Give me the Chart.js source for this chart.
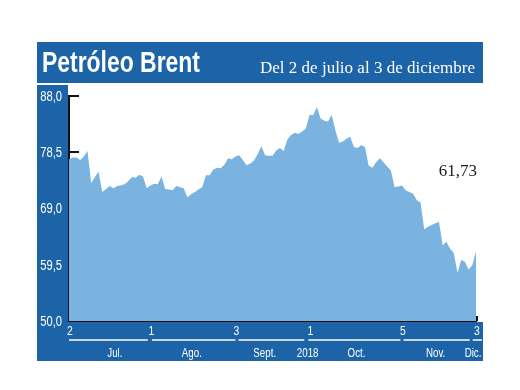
<!DOCTYPE html>
<html>
<head>
<meta charset="utf-8">
<script src="https://cdn.jsdelivr.net/npm/chart.js@4"></script>
<style>
  body { margin: 0; background: #fff; }
  canvas { display: block; }
</style>
</head>
<body>
<canvas id="brentChart" width="520" height="390"></canvas>
<script>
// Brent, trading days from 2 Jul to 3 Dec 2018 (index 0..110)
const prices = [
  77.3, 77.6, 77.6, 77.2, 77.8, 78.7, 73.3, 74.3, 75.2, 71.8,
  72.3, 72.8, 72.4, 72.8, 72.9, 73.1, 73.6, 74.3, 74.2, 74.7,
  74.4, 72.4, 72.9, 73.2, 73.1, 74.4, 72.3, 72.2, 72.1, 72.8,
  72.6, 72.4, 70.9, 71.4, 71.8, 72.2, 72.6, 74.6, 74.6, 75.6,
  75.9, 75.8, 76.4, 77.5, 77.3, 77.8, 78.0, 77.2, 76.3, 76.6,
  77.1, 78.2, 79.5, 78.0, 77.9, 77.9, 78.8, 79.2, 78.7, 80.6,
  81.4, 81.8, 81.6, 82.0, 82.5, 84.8, 84.8, 86.1, 84.2, 83.8,
  83.7, 84.8, 82.2, 80.1, 80.3, 80.8, 81.1, 79.4, 79.2, 79.7,
  79.4, 76.2, 75.9, 76.8, 77.5, 76.8, 76.1, 75.4, 72.6, 72.7,
  72.9, 72.1, 71.8, 71.5, 70.4, 70.0, 65.5, 65.9, 66.2, 66.5,
  66.7, 62.8, 63.4, 62.2, 61.5, 58.1, 60.3, 60.0, 58.7, 59.4,
  61.73
];
const lastLabel = '61,73';

// x ticks: day-of-month labels at trading-day index
const tickIdx = [0, 22, 45, 65, 90, 110];
const tickText = ['2', '1', '3', '1', '5', '3'];

// month captions under the axis
const months = ['Jul.', 'Ago.', 'Sept.', '2018', 'Oct.', 'Nov.', 'Dic.'];
const monthPos = [12.4, 33.2, 52.9, 64.5, 77.7, 99.1, 109.2];
const underlines = [[0, 21.3], [22.4, 45], [45.8, 63.6], [64.7, 89.6], [90.4, 108.3], [109.1, 111.6]];

const yTicks = [50, 59.5, 69, 78.5, 88];

const BLUE = '#1c63a7';
const FILL = '#7bb3e0';
const SANS = "'Liberation Sans', Arial, sans-serif";

// draw text squeezed horizontally (stand-in for a condensed face)
function narrowText(ctx, text, x, y, align, font, squeeze) {
    ctx.save();
    ctx.font = font;
    const w = ctx.measureText(text).width * squeeze;
    let x0 = x;
    if (align === 'center') x0 = x - w / 2;
    if (align === 'right') x0 = x - w;
    ctx.translate(x0, y);
    ctx.scale(squeeze, 1);
    ctx.textAlign = 'left';
    ctx.fillText(text, 0, 0);
    ctx.restore();
}

function fitText(ctx, text, x, y, width, font) {
    ctx.save();
    ctx.font = font;
    const w = ctx.measureText(text).width;
    ctx.translate(x, y);
    ctx.scale(width / w, 1);
    ctx.fillText(text, 0, 0);
    ctx.restore();
}

const framePlugin = {
    id: 'frame',
    beforeDraw(chart) {
        const ctx = chart.ctx;
        ctx.save();
        ctx.fillStyle = '#fff';
        ctx.fillRect(0, 0, chart.width, chart.height);
        ctx.fillStyle = BLUE;
        ctx.fillRect(37, 42, 446, 41);      // title banner
        ctx.fillRect(37, 85, 31, 276);      // y column
        ctx.fillRect(37, 322, 446, 39);     // bottom band
        ctx.restore();
    },
    beforeDatasetsDraw(chart) {
        const ctx = chart.ctx;
        const y = chart.scales.y;
        const left = chart.chartArea.left;
        ctx.save();
        ctx.strokeStyle = '#111';
        ctx.lineWidth = 2;
        yTicks.forEach(v => {
            const py = Math.round(y.getPixelForValue(v));
            ctx.beginPath();
            ctx.moveTo(left, py);
            ctx.lineTo(left + 10, py);
            ctx.stroke();
        });
        ctx.restore();
    },
    afterDraw(chart) {
        const ctx = chart.ctx;
        const x = chart.scales.x;
        const y = chart.scales.y;
        const area = chart.chartArea;
        ctx.save();
        ctx.fillStyle = '#fff';
        ctx.textBaseline = 'alphabetic';
        fitText(ctx, 'Petróleo Brent', 42, 72, 158, "bold 29px " + SANS);
        fitText(ctx, 'Del 2 de julio al 3 de diciembre', 260, 73, 215, "17px 'Liberation Serif', 'DejaVu Serif', serif");

        // y labels
        ctx.textBaseline = 'middle';
        yTicks.forEach(v => {
            narrowText(ctx, v.toFixed(1).replace('.', ','), 62, y.getPixelForValue(v) + 1,
                'right', "14px " + SANS, 0.8);
        });

        // x tick labels
        tickIdx.forEach((v, i) => {
            narrowText(ctx, tickText[i], x.getPixelForValue(v) + 1, 331, 'center', "13px " + SANS, 0.8);
        });

        // month underlines
        ctx.strokeStyle = '#fff';
        ctx.lineWidth = 1.5;
        underlines.forEach(([a, b]) => {
            ctx.beginPath();
            ctx.moveTo(x.getPixelForValue(a), 340);
            ctx.lineTo(x.getPixelForValue(b), 340);
            ctx.stroke();
        });

        // month labels
        months.forEach((m, i) => {
            narrowText(ctx, m, x.getPixelForValue(monthPos[i]), 353, 'center', "13px " + SANS, 0.75);
        });

        // small end tick
        ctx.strokeStyle = '#111';
        ctx.lineWidth = 2;
        ctx.beginPath();
        ctx.moveTo(area.right + 1, area.bottom);
        ctx.lineTo(area.right + 1, area.bottom - 5);
        ctx.stroke();

        // last value
        ctx.fillStyle = '#222';
        ctx.textAlign = 'right';
        ctx.textBaseline = 'alphabetic';
        ctx.font = "17px 'Liberation Serif', 'DejaVu Serif', serif";
        ctx.fillText(lastLabel, area.right + 1, 176);
        ctx.restore();
    }
};

const ctx = document.getElementById('brentChart').getContext('2d');

new Chart(ctx, {
    type: 'line',
    data: {
        datasets: [{
            data: prices.map((v, i) => ({ x: i, y: v })),
            backgroundColor: FILL,
            borderWidth: 0,
            pointRadius: 0,
            fill: 'start',
            tension: 0
        }]
    },
    options: {
        responsive: false,
        animation: false,
        layout: { padding: { left: 37, right: 44, top: 96, bottom: 29 } },
        plugins: {
            legend: { display: false },
            tooltip: { enabled: false }
        },
        scales: {
            x: {
                type: 'linear',
                min: 0,
                max: 110,
                afterBuildTicks: s => { s.ticks = tickIdx.map(v => ({ value: v })); },
                afterFit: s => { s.height = 40; },
                grid: { display: false, drawTicks: false },
                border: { display: true, color: '#111', width: 2 },
                ticks: { display: false }
            },
            y: {
                min: 50,
                max: 88,
                afterBuildTicks: s => { s.ticks = yTicks.map(v => ({ value: v })); },
                afterFit: s => { s.width = 32; },
                grid: { display: false, drawTicks: false },
                border: { display: true, color: '#111', width: 2 },
                ticks: { display: false }
            }
        }
    },
    plugins: [framePlugin]
});
</script>
</body>
</html>
